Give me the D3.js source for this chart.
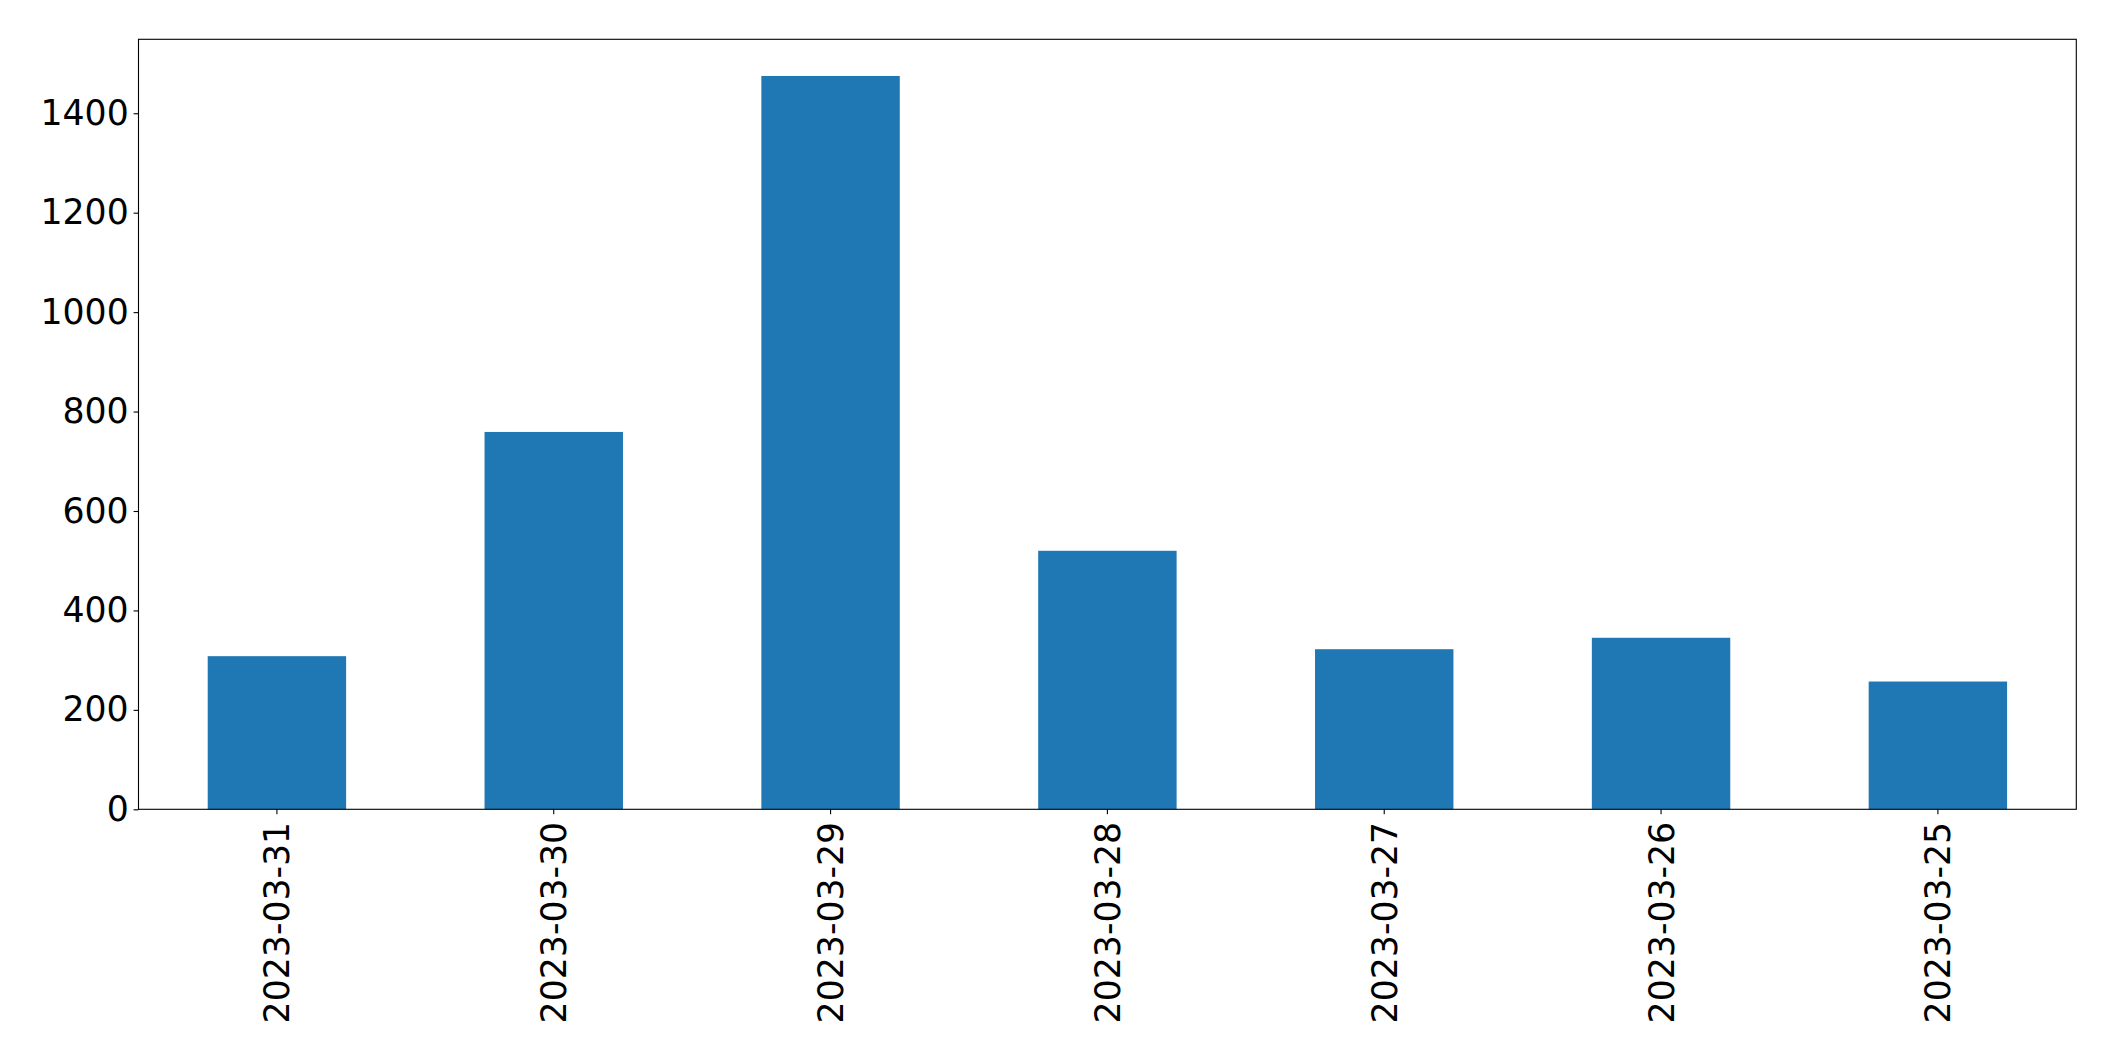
<!DOCTYPE html>
<html><head><meta charset="utf-8">
<script src="https://cdn.jsdelivr.net/npm/d3@7"></script>
<style>body{margin:0;background:#fff;} text{font-family:"DejaVu Sans",sans-serif;}</style>
</head><body>
<svg id="chart" width="2115" height="1061"></svg>
<script>
const categories = ["2023-03-31","2023-03-30","2023-03-29","2023-03-28","2023-03-27","2023-03-26","2023-03-25"];
const values = [308, 759, 1475, 520, 322, 345, 257];
const yTicks = [0, 200, 400, 600, 800, 1000, 1200, 1400];

const svg = d3.select("#chart");
const m = {left: 138.5, top: 39.3, right: 2076.3, bottom: 809.3};
const x = d3.scaleBand().domain(categories).range([m.left, m.right]).paddingInner(0.5).paddingOuter(0.25);
const y = d3.scaleLinear().domain([0, d3.max(values) * 1.05]).range([m.bottom, m.top]);

svg.append("g").selectAll("rect").data(values).join("rect")
  .attr("x", (d, i) => x(categories[i]))
  .attr("width", x.bandwidth())
  .attr("y", d => y(d))
  .attr("height", d => y(0) - y(d))
  .attr("fill", "#1f77b4");

const fs = 34.7;
const ya = svg.append("g").attr("transform", `translate(${m.left},0)`)
  .call(d3.axisLeft(y).tickValues(yTicks).tickSize(4.9).tickPadding(4.9).tickFormat(d3.format("d")));
ya.select(".domain").remove();
ya.selectAll("text").attr("font-size", fs).attr("font-family", "DejaVu Sans").attr("fill", "#000");
ya.selectAll("line").attr("stroke", "#000").attr("stroke-width", 1.1);

const xa = svg.append("g").attr("transform", `translate(0,${m.bottom})`)
  .call(d3.axisBottom(x).tickSize(4.9).tickPadding(0));
xa.select(".domain").remove();
xa.selectAll("line").attr("stroke", "#000").attr("stroke-width", 1.1);
xa.selectAll("text")
  .attr("font-size", fs).attr("font-family", "DejaVu Sans").attr("fill", "#000")
  .attr("transform", "rotate(-90)")
  .attr("x", -12.5).attr("y", 0).attr("dy", "0.36em")
  .attr("text-anchor", "end");

svg.append("rect").attr("x", m.left).attr("y", m.top)
  .attr("width", m.right - m.left).attr("height", m.bottom - m.top)
  .attr("fill", "none").attr("stroke", "#000").attr("stroke-width", 1.1);
</script>
</body></html>
